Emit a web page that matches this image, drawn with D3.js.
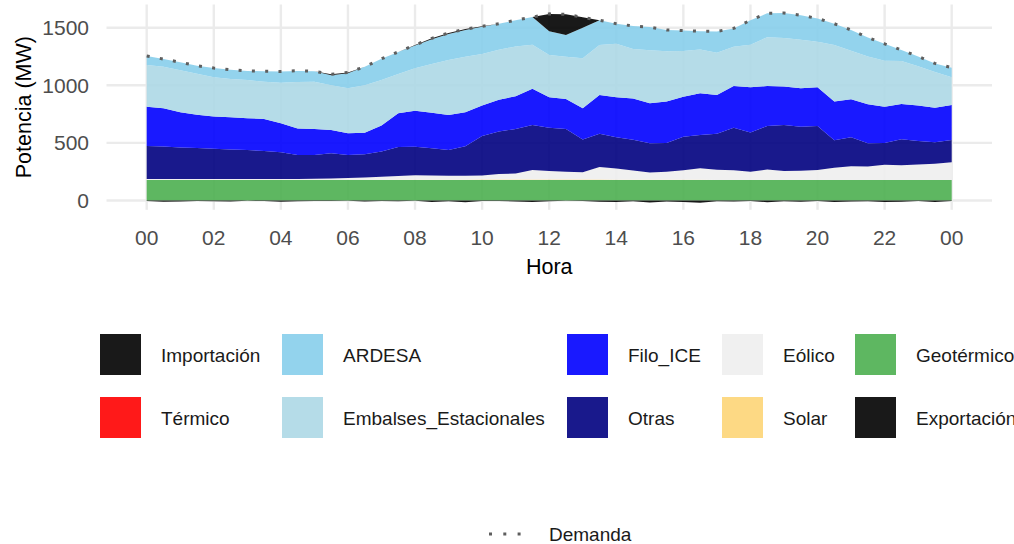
<!DOCTYPE html>
<html>
<head>
<meta charset="utf-8">
<script src="https://cdn.jsdelivr.net/npm/d3@7"></script>
<style>
  body { margin: 0; background: #fff; }
  text { font-family: "Liberation Sans", Arial, sans-serif; }
</style>
</head>
<body>
<svg id="chart" width="1014" height="544"></svg>
<script>
// hora del dia, cada media hora (0 .. 24)
var horas = d3.range(0, 24.5, 0.5);

// potencia por fuente (MW)
var exportacion = [-5,-10,-8,-4,-6,-8,-3,-5,-10,-6,-4,-5,-3,-8,-4,-6,-3,-12,-6,-15,-5,-4,-8,-12,-6,-3,-5,-10,-14,-6,-18,-8,-12,-20,-6,-8,-5,-15,-6,-10,-5,-12,-8,-6,-14,-10,-4,-12,-5];
var geotermico = [177,177,177,177,177,177,177,177,177,177,177,177,177,177,177,177,177,177,177,177,177,177,177,177,177,177,177,177,177,177,177,177,177,177,177,177,177,177,177,177,177,177,177,177,177,177,177,177,177];
var solar = [0,0,0,0,0,0,0,0,0,0,0,0,0,1,2,3,3,4,4,4,5,5,5,5,5,5,5,5,4,4,4,4,3,3,2,2,1,0,0,0,0,0,0,0,0,0,0,0,0];
var eolico = [10,10,10,10,10,10,10,10,10,10,11,13,18,22,28,32,40,37,34,34,34,48,52,83,74,68,63,108,97,79,61,69,82,100,89,83,72,92,79,81,88,108,121,119,133,128,135,143,155];
var otras = [286,281,273,268,263,255,251,243,231,208,207,220,200,202,218,253,246,235,223,255,344,370,386,390,376,371,285,290,271,268,254,250,292,289,312,370,340,378,399,383,382,237,251,202,190,226,205,185,193];
var filoICE = [341,332,305,290,280,280,277,277,252,230,225,202,188,187,225,292,314,309,304,295,265,275,285,315,264,260,270,335,347,357,349,360,346,361,336,362,393,347,335,334,336,338,329,337,314,307,308,301,304];
var embalses = [362,360,365,355,339,333,330,323,353,403,411,388,391,411,396,341,367,423,478,483,447,433,432,382,367,367,434,435,464,430,460,435,398,380,367,341,369,423,420,420,396,490,422,415,400,372,340,309,240];
var ardesa = [78,68,70,70,81,80,79,92,97,97,91,88,130,160,184,192,198,215,225,232,236,227,228,240,207,189,266,215,175,200,200,185,177,160,185,159,213,208,218,213,201,185,180,165,146,96,85,75,84];
var termico = [0,0,0,0,0,0,0,0,0,0,0,0,0,0,0,0,0,0,0,0,0,0,0,0,0,0,0,0,0,0,0,0,0,0,0,0,0,0,0,0,0,0,0,0,0,0,0,0,0];
var importacion = [0,0,0,0,0,0,0,0,0,0,0,8,8,0,0,0,5,8,10,8,4,0,0,0,150,179,90,0,0,0,0,0,0,0,0,0,0,0,0,0,0,0,0,0,0,0,0,0,0];
var demanda = [1254,1228,1200,1170,1150,1135,1124,1122,1120,1127,1122,1096,1112,1160,1230,1290,1350,1408,1455,1488,1512,1535,1565,1592,1620,1616,1590,1565,1535,1515,1505,1480,1475,1470,1468,1494,1565,1625,1628,1608,1580,1535,1480,1415,1360,1306,1250,1190,1153];

var yTicks = [0, 500, 1000, 1500];
var xTicks = [0, 2, 4, 6, 8, 10, 12, 14, 16, 18, 20, 22, 24];

// orden del legend (por columnas) y colores
var fuentes = ["Importación", "Térmico", "ARDESA", "Embalses_Estacionales", "Filo_ICE", "Otras", "Eólico", "Solar", "Geotérmico", "Exportación"];
var colores = ["#000000", "#ff0000", "#87ceeb", "#add8e6", "#0000ff", "#000080", "#eeeeee", "#fdd577", "#4caf50", "#000000"];

var series = {
    "Importación": importacion, "Térmico": termico, "ARDESA": ardesa,
    "Embalses_Estacionales": embalses, "Filo_ICE": filoICE, "Otras": otras,
    "Eólico": eolico, "Solar": solar, "Geotérmico": geotermico, "Exportación": exportacion
};

var svg = d3.select("#chart");
var panel = { left: 106.5, right: 992, top: 4.5, bottom: 209.8 };

var x = d3.scaleLinear().domain([0, 24]).range([146.7, 951.7]);
var y = d3.scaleLinear().domain([0, 1500]).range([200.5, 27.7]);

// grid
var grid = svg.append("g");
grid.selectAll(".gy").data(yTicks).enter().append("line")
    .attr("x1", panel.left).attr("x2", panel.right)
    .attr("y1", function (d) { return y(d); }).attr("y2", function (d) { return y(d); })
    .attr("stroke", "#ebebeb").attr("stroke-width", 2.4);
grid.selectAll(".gx").data(xTicks).enter().append("line")
    .attr("y1", panel.top).attr("y2", panel.bottom)
    .attr("x1", function (d) { return x(d); }).attr("x2", function (d) { return x(d); })
    .attr("stroke", "#ebebeb").attr("stroke-width", 2.4);

// tabla para el stack
var tabla = horas.map(function (h, i) {
    var row = { hora: h };
    fuentes.forEach(function (f) { row[f] = series[f][i]; });
    return row;
});

// positivos de abajo hacia arriba, la exportacion va aparte (negativa)
var positivos = fuentes.slice(0, 9).reverse();
var capas = d3.stack().keys(positivos)(tabla)
    .concat(d3.stack().keys(["Exportación"])(tabla));

var area = d3.area()
    .x(function (d) { return x(d.data.hora); })
    .y0(function (d) { return y(d[0]); })
    .y1(function (d) { return y(d[1]); });

svg.append("g").selectAll("path").data(capas).enter().append("path")
    .attr("d", area)
    .attr("fill", function (d) { return colores[fuentes.indexOf(d.key)]; })
    .attr("fill-opacity", 0.9);

// demanda
var linea = d3.line()
    .x(function (d, i) { return x(horas[i]); })
    .y(function (d) { return y(d); });
svg.append("path").datum(demanda)
    .attr("d", linea)
    .attr("fill", "none")
    .attr("stroke", "#5e5e5e")
    .attr("stroke-width", 3)
    .attr("stroke-dasharray", "3,10.3");

// ejes
svg.append("g").selectAll("text").data(yTicks).enter().append("text")
    .attr("x", 89).attr("y", function (d) { return y(d); })
    .attr("dy", "0.35em")
    .attr("text-anchor", "end")
    .attr("font-size", 21).attr("fill", "#4d4d4d")
    .text(function (d) { return d; });

svg.append("g").selectAll("text").data(xTicks).enter().append("text")
    .attr("x", function (d) { return x(d); }).attr("y", 244.5)
    .attr("text-anchor", "middle")
    .attr("font-size", 21).attr("fill", "#4d4d4d")
    .text(function (d) { return d3.format("02d")(d % 24); });

svg.append("text")
    .attr("x", (panel.left + panel.right) / 2).attr("y", 273.5)
    .attr("text-anchor", "middle").attr("font-size", 21.5)
    .text("Hora");

svg.append("text")
    .attr("transform", "translate(31," + ((panel.top + panel.bottom) / 2) + ") rotate(-90)")
    .attr("text-anchor", "middle").attr("font-size", 21.5)
    .text("Potencia (MW)");

// leyenda
var colX = [100, 282, 567, 722, 855];
var rowY = [334, 397];
var leg = svg.append("g");
fuentes.forEach(function (f, i) {
    var cx = colX[Math.floor(i / 2)];
    var ry = rowY[i % 2];
    leg.append("rect")
        .attr("x", cx).attr("y", ry).attr("width", 41).attr("height", 41)
        .attr("fill", colores[i]).attr("fill-opacity", 0.9);
    leg.append("text")
        .attr("x", cx + 61).attr("y", ry + 28)
        .attr("font-size", 19).attr("fill", "#1a1a1a")
        .text(f);
});

// leyenda de la demanda
leg.append("line")
    .attr("x1", 489).attr("x2", 523).attr("y1", 534).attr("y2", 534)
    .attr("stroke", "#5e5e5e").attr("stroke-width", 3)
    .attr("stroke-dasharray", "3,11.3");
leg.append("text")
    .attr("x", 549).attr("y", 541)
    .attr("font-size", 19).attr("fill", "#1a1a1a")
    .text("Demanda");
</script>
</body>
</html>
